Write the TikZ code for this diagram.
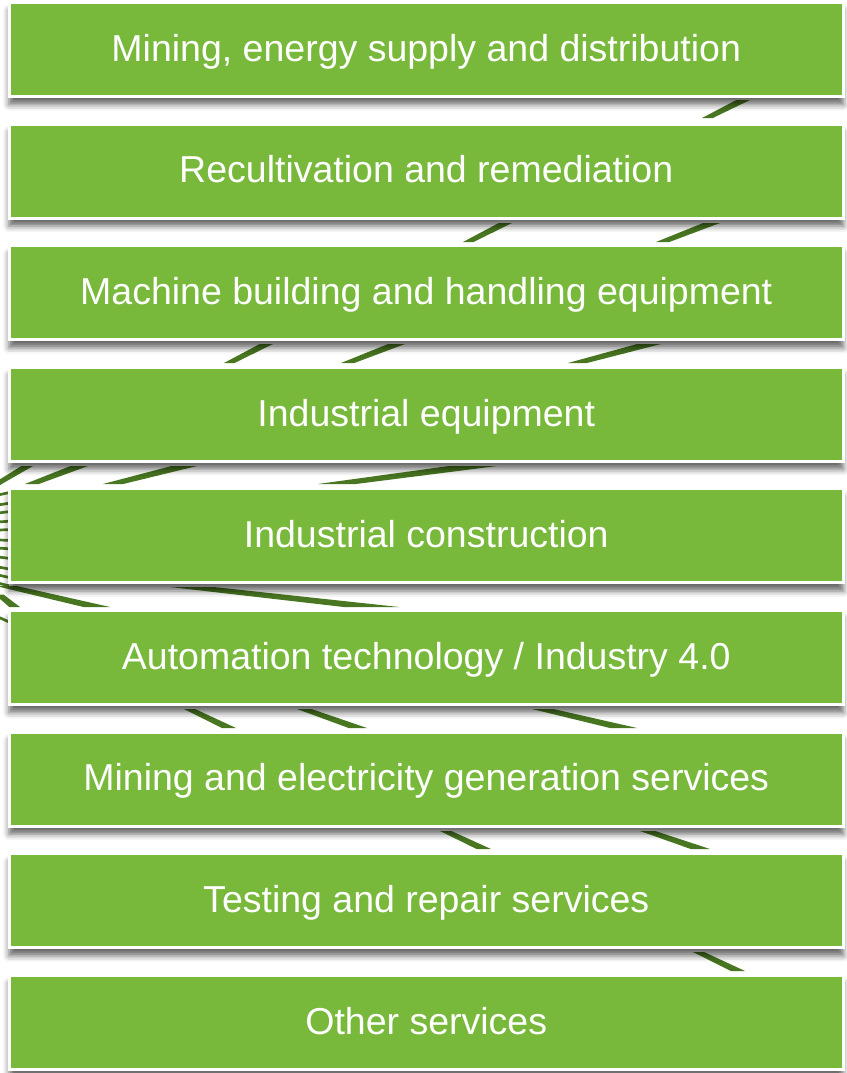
\documentclass[tikz,border=0pt]{standalone}
\usepackage{fontspec}
\setmainfont{Liberation Sans}
\usetikzlibrary{shadows.blur}

\definecolor{boxgreen}{RGB}{120,184,58}
\definecolor{stranddark}{RGB}{72,118,33}

\tikzset{
	catbox/.style={fill=boxgreen, draw=white, line width=3pt, inner sep=0pt,
		minimum width=834.5pt, minimum height=94pt, text=white,
		text height=27.4pt, text depth=4pt,
		font=\fontsize{37.5}{44}\selectfont,
		blur shadow={shadow xshift=0pt, shadow yshift=-8pt, shadow blur radius=6pt, shadow opacity=60}},
	strandfill/.style={fill=stranddark},
	strandline/.style={draw=stranddark, line width=2.7pt}
}

% one tapered strand piece seen in a gap: left end (#1,#2), right end (#3,#4)
\newcommand{\strandpiece}[4]{%
	\pgfmathsetmacro{\slen}{veclen(#3-#1,#4-#2)}%
	\pgfmathsetmacro{\sdy}{abs(#4-#2)}%
	\pgfmathsetmacro{\wa}{3.8*\slen/\sdy}%
	\pgfmathsetmacro{\wb}{4.8*\slen/\sdy}%
	\fill[strandfill] (#1,#2) -- ++(\wa,0) -- (#3,#4) -- ++(-\wb,0) -- cycle;}

\begin{document}
\begin{tikzpicture}[x=1pt, y=-1pt]
	\useasboundingbox (0,0) rectangle (846,1073);

	% strands behind the boxes
	\strandpiece{702}{118}{750}{100}
	\strandpiece{463}{242}{512}{223}
	\strandpiece{656}{242}{720}{223}
	\strandpiece{224}{363}{273}{344}
	\strandpiece{341}{363}{405}{344}
	\strandpiece{568}{363}{661}{344}
	\strandpiece{-10}{485.5}{33}{466}
	\strandpiece{25}{484}{88}{466}
	\strandpiece{103}{484}{197}{466}
	\strandpiece{318}{484}{497}{466}
	\strandpiece{-5}{585.8}{110}{607}
	\strandpiece{-5}{594.5}{20}{607}
	\strandpiece{170}{587}{399}{607}
	\strandpiece{184}{709}{236}{728}
	\strandpiece{297}{709}{367}{728}
	\strandpiece{532}{709}{637}{728}
	\strandpiece{440}{831}{491}{849}
	\strandpiece{640}{831}{710}{849}
	\strandpiece{693}{952}{745}{971}

	\foreach \yy in {495,505,513,522,530,540,548,557,567,575,583,617}
		\draw[strandline] (-2,\yy) -- (9,{\yy+(\yy-535)*0.06});

	% the boxes
	\foreach \txt [count=\i] in {{Mining, energy supply and distribution},
		{Recultivation and remediation},
		{Machine building and handling equipment},
		{Industrial equipment},
		{Industrial construction},
		{Automation technology / Industry 4.0},
		{Mining and electricity generation services},
		{Testing and repair services},
		{Other services}}
		\node[catbox] (cat\i) at (426.25, {49.5+121.6*(\i-1)}) {\txt};
\end{tikzpicture}
\end{document}
